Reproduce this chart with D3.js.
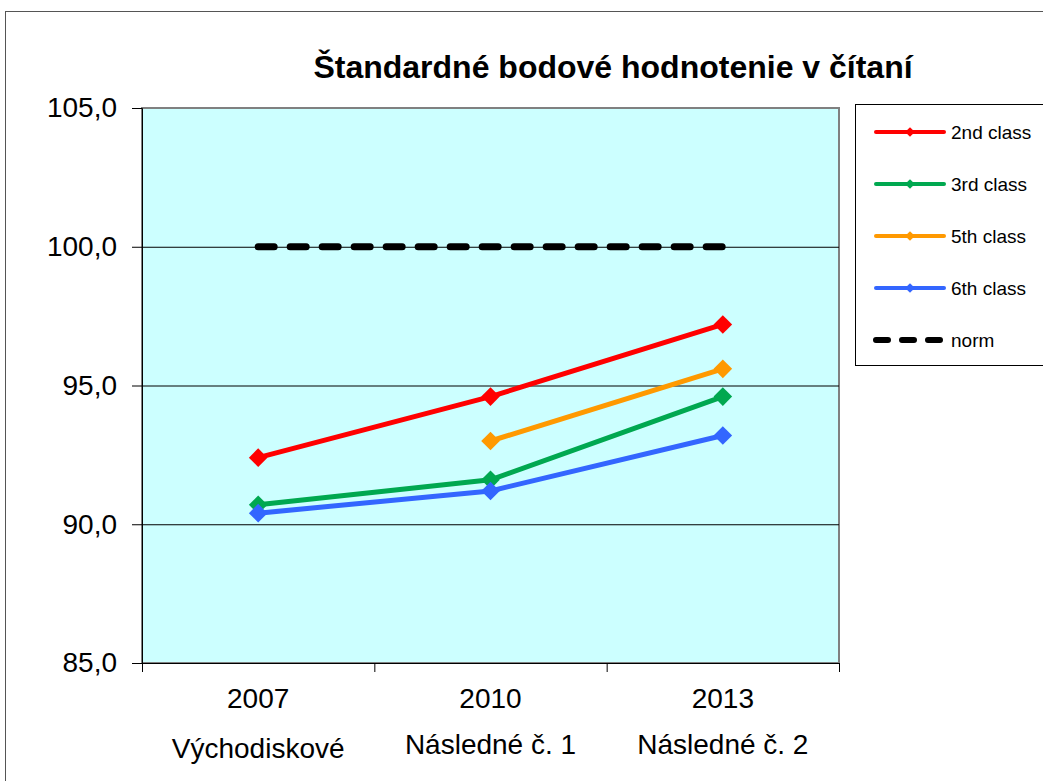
<!DOCTYPE html>
<html lang="en">
<head>
    <meta charset="UTF-8">
    <title>Standardne bodove hodnotenie</title>
    <script src="https://d3js.org/d3.v7.min.js"></script>
    <style>
        html, body { margin: 0; padding: 0; background: #fff; }
        text { font-family: Arial, "Liberation Sans", sans-serif; }
    </style>
</head>
<body>
<div id="target"></div>
<script>
    // data
    const years = ["2007", "2010", "2013"];
    const phases = ["Východiskové", "Následné č. 1", "Následné č. 2"];
    const class2 = [92.4, 94.6, 97.2];
    const class3 = [90.7, 91.6, 94.6];
    const class5 = [null, 93.0, 95.6];
    const class6 = [90.4, 91.2, 93.2];
    const norm = [100, 100, 100];
    const yTicks = [85, 90, 95, 100, 105];

    const series = [
        { name: "2nd class", values: class2, color: "#ff0000" },
        { name: "3rd class", values: class3, color: "#00a850" },
        { name: "5th class", values: class5, color: "#ff9900" },
        { name: "6th class", values: class6, color: "#3366ff" },
        { name: "norm", values: norm, color: "#000000", dashed: true }
    ];

    const width = 1043, height = 781;
    const m = { left: 142, top: 108, right: 839, bottom: 663 };

    const svg = d3.select("#target").append("svg")
        .attr("width", width).attr("height", height);

    // outer chart border
    svg.append("rect")
        .attr("x", 5.5).attr("y", 11.5)
        .attr("width", 1100).attr("height", 1000)
        .attr("fill", "#fff").attr("stroke", "#555").attr("stroke-width", 1);

    const x = d3.scaleBand().domain(years).range([m.left, m.right]);
    const y = d3.scaleLinear().domain([85, 105]).range([m.bottom, m.top]);

    // plot area
    svg.append("rect")
        .attr("x", m.left).attr("y", m.top)
        .attr("width", m.right - m.left).attr("height", m.bottom - m.top)
        .attr("fill", "#ccffff").attr("stroke", "#808080").attr("stroke-width", 2);

    // gridlines
    svg.append("g").selectAll("line")
        .data(yTicks.filter(d => d > 85 && d < 105))
        .join("line")
        .attr("x1", m.left).attr("x2", m.right)
        .attr("y1", d => y(d) + 0.5).attr("y2", d => y(d) + 0.5)
        .attr("stroke", "#000").attr("stroke-width", 1);

    // y axis
    const yAxis = svg.append("g")
        .attr("transform", `translate(${m.left},0)`)
        .call(d3.axisLeft(y).tickValues(yTicks).tickSize(10).tickPadding(15)
            .tickFormat(d => d3.format(".1f")(d).replace(".", ",")));
    yAxis.selectAll("text").attr("font-size", 28).attr("fill", "#000")
        .style("font-family", "Arial, 'Liberation Sans', sans-serif");
    yAxis.selectAll("line").attr("stroke", "#000");
    yAxis.select(".domain").attr("stroke", "#000");

    // x axis
    const xAxis = svg.append("g")
        .attr("transform", `translate(0,${m.bottom})`)
        .call(d3.axisBottom(x).tickSize(0).tickFormat(""));
    xAxis.select(".domain").attr("stroke", "#000");
    xAxis.selectAll(".tick").remove();
    xAxis.selectAll("line.sep")
        .data([...years.map(d => x(d)), m.right])
        .join("line")
        .attr("class", "sep")
        .attr("x1", d => d + 0.5).attr("x2", d => d + 0.5)
        .attr("y1", 0).attr("y2", 9)
        .attr("stroke", "#000");

    const catLabels = svg.append("g");
    catLabels.selectAll("text.year")
        .data(years)
        .join("text")
        .attr("x", d => x(d) + x.bandwidth() / 2)
        .attr("y", 708)
        .attr("text-anchor", "middle")
        .attr("font-size", 28)
        .text(d => d);
    catLabels.selectAll("text.phase")
        .data(phases)
        .join("text")
        .attr("x", (d, i) => x(years[i]) + x.bandwidth() / 2)
        .attr("y", (d, i) => i === 0 ? 758 : 754)
        .attr("text-anchor", "middle")
        .attr("font-size", 28)
        .text(d => d);

    // lines
    const line = d3.line()
        .defined(d => d.v != null)
        .x(d => x(d.year) + x.bandwidth() / 2)
        .y(d => y(d.v));

    const diamond = d3.symbol().type(d3.symbolDiamond2).size(220);

    series.forEach(s => {
        const pts = s.values.map((v, i) => ({ year: years[i], v }));
        svg.append("path")
            .datum(pts)
            .attr("d", line)
            .attr("fill", "none")
            .attr("stroke", s.color)
            .attr("stroke-width", s.dashed ? 7 : 5)
            .attr("stroke-dasharray", s.dashed ? "16,16" : null)
            .attr("stroke-linecap", s.dashed ? "round" : "butt")
            .attr("stroke-linejoin", "round");
        if (!s.dashed) {
            svg.append("g").selectAll("path")
                .data(pts.filter(d => d.v != null))
                .join("path")
                .attr("d", diamond)
                .attr("transform", d => `translate(${x(d.year) + x.bandwidth() / 2},${y(d.v)})`)
                .attr("fill", s.color);
        }
    });

    // title
    svg.append("text")
        .attr("x", 613).attr("y", 78)
        .attr("text-anchor", "middle")
        .attr("font-size", 32)
        .attr("font-weight", "bold")
        .text("Štandardné bodové hodnotenie v čítaní");

    // legend
    const lg = svg.append("g");
    lg.append("rect")
        .attr("x", 855.5).attr("y", 104.5)
        .attr("width", 200).attr("height", 261)
        .attr("fill", "#fff").attr("stroke", "#000").attr("stroke-width", 1);

    const item = lg.selectAll("g.item")
        .data(series)
        .join("g")
        .attr("transform", (d, i) => `translate(0,${132 + i * 52})`);
    item.append("line")
        .attr("x1", 876).attr("x2", 944)
        .attr("y1", 0).attr("y2", 0)
        .attr("stroke", d => d.color)
        .attr("stroke-width", d => d.dashed ? 6 : 4)
        .attr("stroke-linecap", "round")
        .attr("stroke-dasharray", d => d.dashed ? "12,14" : null);
    item.filter(d => !d.dashed).append("path")
        .attr("d", d3.symbol().type(d3.symbolDiamond2).size(60))
        .attr("transform", "translate(910,0)")
        .attr("fill", d => d.color);
    item.append("text")
        .attr("x", 951).attr("y", 7)
        .attr("font-size", 19)
        .text(d => d.name);
</script>
</body>
</html>
